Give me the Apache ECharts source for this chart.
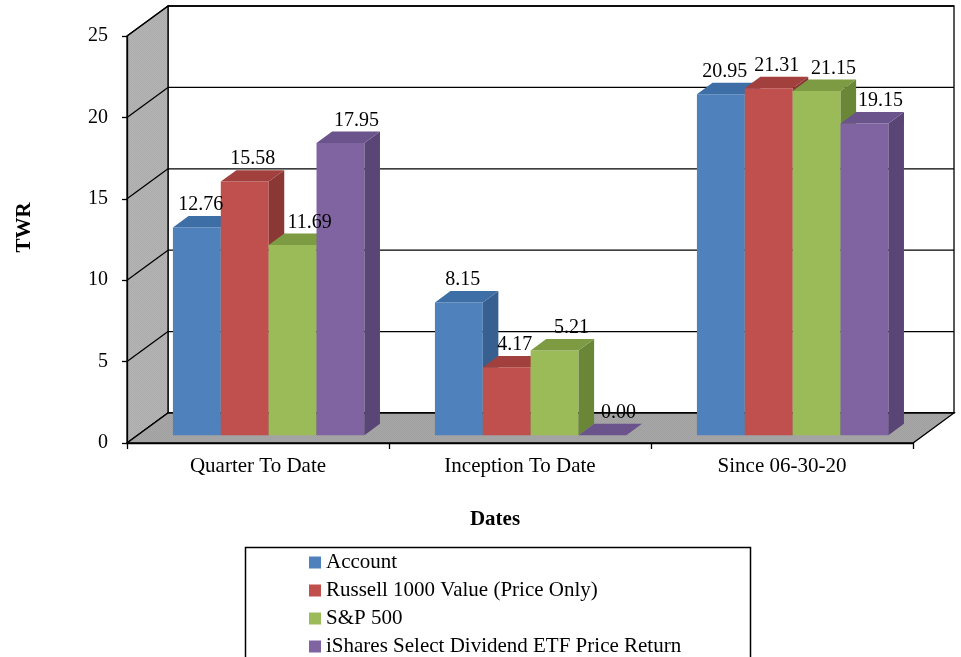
<!DOCTYPE html>
<html>
<head>
<meta charset="utf-8">
<script src="https://cdn.jsdelivr.net/npm/echarts@6/dist/echarts.min.js"></script>
<style>
  html, body { margin: 0; padding: 0; background: #ffffff; }
  #chart { width: 961px; height: 657px; }
</style>
</head>
<body>
<div id="chart"></div>
<script>
// ---- data ----
const categories = ['Quarter To Date', 'Inception To Date', 'Since 06-30-20'];
const seriesNames = ['Account', 'Russell 1000 Value (Price Only)', 'S&P 500', 'iShares Select Dividend ETF Price Return'];
const account = [12.76, 8.15, 20.95];
const russell1000Value = [15.58, 4.17, 21.31];
const sp500 = [11.69, 5.21, 21.15];
const iSharesDividend = [17.95, 0.00, 19.15];
const yTicks = [0, 5, 10, 15, 20, 25];

const seriesValues = [account, russell1000Value, sp500, iSharesDividend];

// ---- styling ----
const FONT = 'Liberation Serif';
const faces = [
  { front: '#4f81bd', top: '#3e6ea6', side: '#375f8f' },
  { front: '#c0504d', top: '#a2403d', side: '#8a3735' },
  { front: '#9bbb59', top: '#7c9b42', side: '#6a8738' },
  { front: '#8064a2', top: '#6b548c', side: '#5a4676' }
];
const WALL_DX = 41, WALL_DY = -30;      // depth of the 3D box in pixels
const BAR_NEAR = 0.26, BAR_FAR = 0.64;  // bar slab position inside the depth
const BAR_FRAC = 0.1827;                // bar width as share of category band
const LABEL_DX = [4, 8, 17, 16];
const Y_MAX = 25;

// fine grain fill for the wall and floor surfaces
function speckle(a, b) {
  const c = document.createElement('canvas');
  c.width = 4; c.height = 4;
  const g = c.getContext('2d');
  for (let i = 0; i < 4; i++) {
    for (let j = 0; j < 4; j++) {
      g.fillStyle = ((i + j) % 2 === 0) ? a : b;
      g.fillRect(i, j, 1, 1);
    }
  }
  return { image: c, repeat: 'repeat' };
}
const wallFill = speckle('#acacac', '#b4b4b4');
const floorFill = speckle('#a0a0a0', '#a7a7a7');

function boxFrame(api) {
  const half = api.size([1, 0])[0] / 2;
  const first = api.coord([0, 0]);
  const last = api.coord([categories.length - 1, 0]);
  const top = api.coord([0, Y_MAX]);
  return { xL: first[0] - half, xR: last[0] + half, y0: first[1], yT: top[1] };
}

function renderWalls(params, api) {
  const f = boxFrame(api);
  const line = { stroke: '#000', lineWidth: 1.3, fill: null };
  const children = [];
  // back wall
  children.push({
    type: 'polygon',
    shape: { points: [[f.xL + WALL_DX, f.yT + WALL_DY], [f.xR + WALL_DX, f.yT + WALL_DY],
                      [f.xR + WALL_DX, f.y0 + WALL_DY], [f.xL + WALL_DX, f.y0 + WALL_DY]] },
    style: { fill: '#ffffff', stroke: '#000', lineWidth: 1.3 }
  });
  // left side wall
  children.push({
    type: 'polygon',
    shape: { points: [[f.xL, f.y0], [f.xL, f.yT], [f.xL + WALL_DX, f.yT + WALL_DY], [f.xL + WALL_DX, f.y0 + WALL_DY]] },
    style: { fill: wallFill, stroke: '#000', lineWidth: 1.3 }
  });
  // gridlines on both walls
  yTicks.forEach(function (t) {
    const y = api.coord([0, t])[1];
    children.push({ type: 'line', shape: { x1: f.xL, y1: y, x2: f.xL + WALL_DX, y2: y + WALL_DY }, style: line });
    children.push({ type: 'line', shape: { x1: f.xL + WALL_DX, y1: y + WALL_DY, x2: f.xR + WALL_DX, y2: y + WALL_DY }, style: line });
  });
  // floor
  children.push({
    type: 'polygon',
    shape: { points: [[f.xL, f.y0], [f.xR, f.y0], [f.xR + WALL_DX, f.y0 + WALL_DY], [f.xL + WALL_DX, f.y0 + WALL_DY]] },
    style: { fill: floorFill, stroke: '#000', lineWidth: 1.3 }
  });
  return { type: 'group', children: children };
}

function barGeometry(s, api) {
  const cat = api.value(0), val = api.value(1);
  const bw = api.size([1, 0])[0] * BAR_FRAC;
  const base = api.coord([cat, 0]);
  const tip = api.coord([cat, val]);
  const nx = WALL_DX * BAR_NEAR, ny = WALL_DY * BAR_NEAR;
  const ddx = WALL_DX * (BAR_FAR - BAR_NEAR), ddy = WALL_DY * (BAR_FAR - BAR_NEAR);
  const x0 = base[0] - 2 * bw + s * bw + nx;
  return { x0: x0, x1: x0 + bw, yb: base[1] + ny, yt: tip[1] + ny, ddx: ddx, ddy: ddy, val: val };
}

function makeBarRenderer(s) {
  return function (params, api) {
    const g = barGeometry(s, api);
    const c = faces[s];
    const children = [];
    if (g.yb - g.yt > 0.5) {
      children.push({ type: 'rect', shape: { x: g.x0, y: g.yt, width: g.x1 - g.x0, height: g.yb - g.yt }, style: { fill: c.front } });
      children.push({ type: 'polygon', shape: { points: [[g.x1, g.yb], [g.x1, g.yt], [g.x1 + g.ddx, g.yt + g.ddy], [g.x1 + g.ddx, g.yb + g.ddy]] }, style: { fill: c.side } });
    }
    children.push({ type: 'polygon', shape: { points: [[g.x0, g.yt], [g.x1, g.yt], [g.x1 + g.ddx, g.yt + g.ddy], [g.x0 + g.ddx, g.yt + g.ddy]] }, style: { fill: c.top } });
    return { type: 'group', children: children };
  };
}

function makeLabelRenderer(s) {
  return function (params, api) {
    const g = barGeometry(s, api);
    return {
      type: 'text',
      style: {
        text: g.val.toFixed(2),
        x: (g.x0 + g.x1) / 2 + LABEL_DX[s],
        y: g.yt + g.ddy - 1,
        align: 'center',
        verticalAlign: 'bottom',
        fill: '#000',
        font: '20px "' + FONT + '"'
      }
    };
  };
}

const series = [{
  type: 'custom',
  name: 'walls',
  z: 1,
  silent: true,
  renderItem: renderWalls,
  data: [[0, 0]]
}];
seriesValues.forEach(function (vals, s) {
  series.push({
    type: 'custom',
    name: seriesNames[s],
    z: 3 + s,
    itemStyle: { color: faces[s].front },
    renderItem: makeBarRenderer(s),
    data: vals.map(function (v, i) { return [i, v]; })
  });
});
seriesValues.forEach(function (vals, s) {
  series.push({
    type: 'custom',
    name: seriesNames[s],
    z: 20,
    silent: true,
    itemStyle: { color: faces[s].front },
    renderItem: makeLabelRenderer(s),
    data: vals.map(function (v, i) { return [i, v]; })
  });
});

const chart = echarts.init(document.getElementById('chart'), null, { renderer: 'canvas' });
chart.setOption({
  backgroundColor: '#ffffff',
  animation: false,
  grid: { left: 127, right: 48, top: 36, bottom: 214 },
  xAxis: {
    type: 'category',
    data: categories,
    z: 30,
    axisLine: { show: true, lineStyle: { color: '#000', width: 1.3 } },
    axisTick: { show: true, length: 6, lineStyle: { color: '#000', width: 1.3 } },
    axisLabel: { margin: 13, color: '#000', fontFamily: FONT, fontSize: 21 },
    splitLine: { show: false },
    name: 'Dates',
    nameLocation: 'middle',
    nameGap: 66,
    nameTextStyle: { color: '#000', fontFamily: FONT, fontSize: 21, fontWeight: 'bold', padding: [0, 50, 0, 0] }
  },
  yAxis: {
    type: 'value',
    min: 0,
    max: Y_MAX,
    interval: 5,
    z: 30,
    axisLine: { show: true, lineStyle: { color: '#000', width: 1.3 } },
    axisTick: { show: true, length: 5, lineStyle: { color: '#000', width: 1.3 } },
    axisLabel: { margin: 19, color: '#000', fontFamily: FONT, fontSize: 20 },
    splitLine: { show: false },
    name: 'TWR',
    nameLocation: 'middle',
    nameRotate: 90,
    nameGap: 92,
    nameTextStyle: { color: '#000', fontFamily: FONT, fontSize: 21, fontWeight: 'bold', padding: [0, 0, 0, 24] }
  },
  legend: {
    data: seriesNames,
    orient: 'vertical',
    left: 309,
    top: 552,
    padding: 0,
    itemWidth: 12,
    itemHeight: 12,
    itemGap: 7,
    icon: 'rect',
    selectedMode: false,
    textStyle: { color: '#000', fontFamily: FONT, fontSize: 21, lineHeight: 20 }
  },
  graphic: [{
    type: 'rect',
    silent: true,
    shape: { x: 245.5, y: 547.5, width: 505, height: 130 },
    style: { fill: null, stroke: '#000', lineWidth: 1.5 }
  }],
  series: series
});
</script>
</body>
</html>
